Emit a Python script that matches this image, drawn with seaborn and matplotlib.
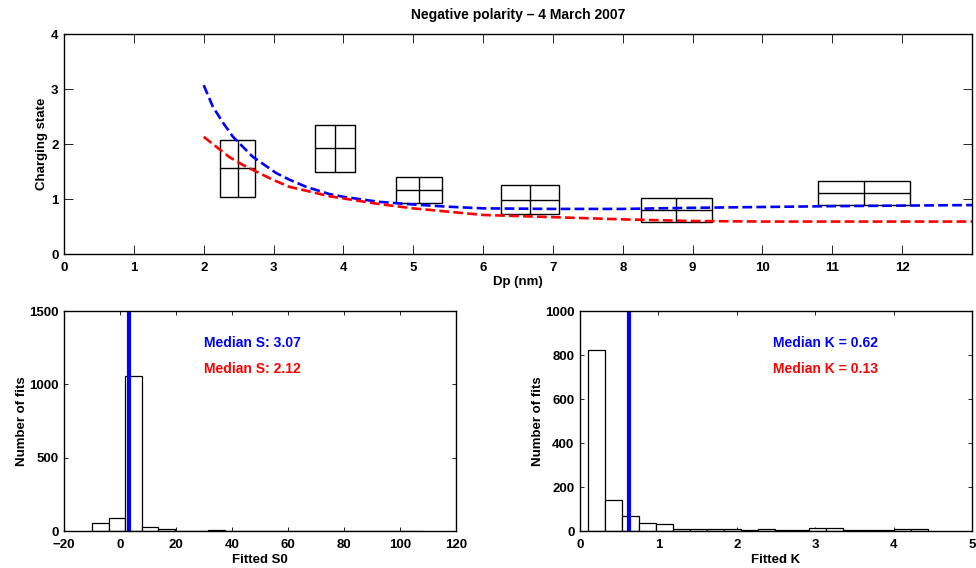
import numpy as np
import pandas as pd
import matplotlib
matplotlib.use("Agg")
import matplotlib.pyplot as plt
from matplotlib.patches import Rectangle
import seaborn as sns

# Данные, считанные с картинки
# медианные кривые (синяя и красная)
blue_dp = [2.0, 2.13, 2.28, 2.42, 2.56, 2.70, 2.87, 3.04, 3.23, 3.47, 3.8, 4.0,
           4.5, 5.0, 5.5, 6.0, 7.0, 8.0, 9.0, 10.0, 11.0, 12.0, 13.0]
blue_q = [3.07, 2.68, 2.38, 2.13, 1.95, 1.77, 1.62, 1.47, 1.35, 1.22, 1.09, 1.04,
          0.95, 0.90, 0.86, 0.83, 0.82, 0.82, 0.84, 0.855, 0.87, 0.88, 0.89]
red_dp = [2.0, 2.18, 2.37, 2.56, 2.75, 2.99, 3.23, 3.47, 3.8, 4.0, 4.5, 5.0,
          6.0, 7.0, 8.0, 9.0, 10.0, 11.0, 12.0, 13.0]
red_q = [2.13, 1.95, 1.76, 1.62, 1.50, 1.35, 1.22, 1.15, 1.05, 1.01, 0.91, 0.83,
         0.71, 0.67, 0.63, 0.60, 0.59, 0.59, 0.59, 0.59]

# боксы: квартили по Dp и по заряду
box_x_lo = [2.24, 3.60, 4.75, 6.26, 8.26, 10.80]
box_x_med = [2.49, 3.88, 5.08, 6.67, 8.76, 11.46]
box_x_hi = [2.74, 4.16, 5.41, 7.08, 9.28, 12.11]
box_q_lo = [1.04, 1.49, 0.92, 0.73, 0.59, 0.89]
box_q_med = [1.56, 1.92, 1.16, 0.99, 0.80, 1.11]
box_q_hi = [2.07, 2.34, 1.40, 1.25, 1.01, 1.33]

# гистограммы
s0_range = (-9.9, 108.2)
s0_counts = [57, 87, 1057, 25, 11, 3, 2, 5, 2, 2, 2, 1, 1, 1, 0, 1, 0, 1, 0, 1]
k_range = (0.1, 4.44)
k_counts = [823, 140, 68, 38, 33, 11, 11, 9, 9, 6, 11, 5, 5, 14, 14, 6, 5, 3, 11, 11]
median_s = [3.07, 2.12]
median_k = [0.62, 0.13]

sns.set_style("ticks")
plt.rcParams["font.family"] = ["Liberation Sans", "DejaVu Sans"]
plt.rcParams["font.weight"] = "bold"
plt.rcParams["axes.labelweight"] = "bold"
plt.rcParams["axes.titleweight"] = "bold"
plt.rcParams["font.size"] = 9.5
for key in ["text.color", "axes.labelcolor", "xtick.color", "ytick.color", "axes.edgecolor"]:
    plt.rcParams[key] = "black"

fig = plt.figure(figsize=(9.76, 5.68), dpi=100)
ax_top = fig.add_axes([0.0656, 0.5528, 0.9303, 0.3873])
ax_s = fig.add_axes([0.0656, 0.0651, 0.4016, 0.3873])
ax_k = fig.add_axes([0.5943, 0.0651, 0.4016, 0.3873])

# Верхний график
for i in range(len(box_x_med)):
    ax_top.add_patch(Rectangle((box_x_lo[i], box_q_lo[i]), box_x_hi[i] - box_x_lo[i],
                               box_q_hi[i] - box_q_lo[i], fill=False, edgecolor="black", lw=1.0))
    ax_top.plot([box_x_lo[i], box_x_hi[i]], [box_q_med[i], box_q_med[i]], color="black", lw=1.0)
    ax_top.plot([box_x_med[i], box_x_med[i]], [box_q_lo[i], box_q_hi[i]], color="black", lw=1.0)

curves = pd.DataFrame({"dp": blue_dp, "q": blue_q})
sns.lineplot(data=curves, x="dp", y="q", ax=ax_top, color="blue", lw=1.9,
             linestyle="--", sort=False)
curves = pd.DataFrame({"dp": red_dp, "q": red_q})
sns.lineplot(data=curves, x="dp", y="q", ax=ax_top, color="red", lw=1.9,
             linestyle="--", sort=False)

ax_top.set_xlim(0, 13)
ax_top.set_ylim(0, 4)
ax_top.set_xticks(range(0, 13))
ax_top.set_yticks(range(0, 5))
ax_top.set_xlabel("Dp (nm)", labelpad=1)
ax_top.set_ylabel("Charging state", labelpad=2)
ax_top.set_title("Negative polarity \u2013 4 March 2007", fontsize=10, pad=11)
ax_top.tick_params(direction="in", top=True, right=True, length=6.5, width=0.6)
ax_top.tick_params(axis="x", pad=6)
ax_top.tick_params(axis="y", pad=4)


# Гистограммы
def draw_hist(ax, rng, counts, medians, label, xlim, ylim, xticks, yticks, txt_x, txt_y, fmt):
    edges = np.linspace(rng[0], rng[1], len(counts) + 1)
    hist_df = pd.DataFrame({"c": (edges[:-1] + edges[1:]) / 2, "n": counts})
    sns.histplot(data=hist_df, x="c", weights="n", bins=list(edges), ax=ax, color="white",
                 edgecolor="black", linewidth=0.9, alpha=1)
    ax.axvline(medians[0], color="blue", lw=3)
    ax.text(txt_x, txt_y[0], fmt.format(medians[0]), color="blue", fontsize=10, fontweight="bold")
    ax.text(txt_x, txt_y[1], fmt.format(medians[1]), color="red", fontsize=10, fontweight="bold")
    ax.set_xlim(*xlim)
    ax.set_ylim(*ylim)
    ax.set_xticks(xticks)
    ax.set_yticks(yticks)
    ax.set_xlabel(label, labelpad=2)
    ax.set_ylabel("Number of fits", labelpad=1)
    ax.tick_params(direction="in", top=True, right=True, length=2.9, width=0.6)
    ax.tick_params(axis="x", pad=6)
    ax.tick_params(axis="y", pad=4)


draw_hist(ax_s, s0_range, s0_counts, median_s, "Fitted S0", (-20, 120), (0, 1500),
          range(-20, 121, 20), range(0, 1501, 500), 30, (1255, 1080), "Median S: {:.2f}")
draw_hist(ax_k, k_range, k_counts, median_k, "Fitted K", (0, 5), (0, 1000),
          range(0, 6), range(0, 1001, 200), 2.46, (837, 720), "Median K = {:.2f}")

for ax in (ax_top, ax_s, ax_k):
    for sp in ax.spines.values():
        sp.set_linewidth(1.0)
        sp.set_visible(True)

fig.savefig("out.png", dpi=100)
